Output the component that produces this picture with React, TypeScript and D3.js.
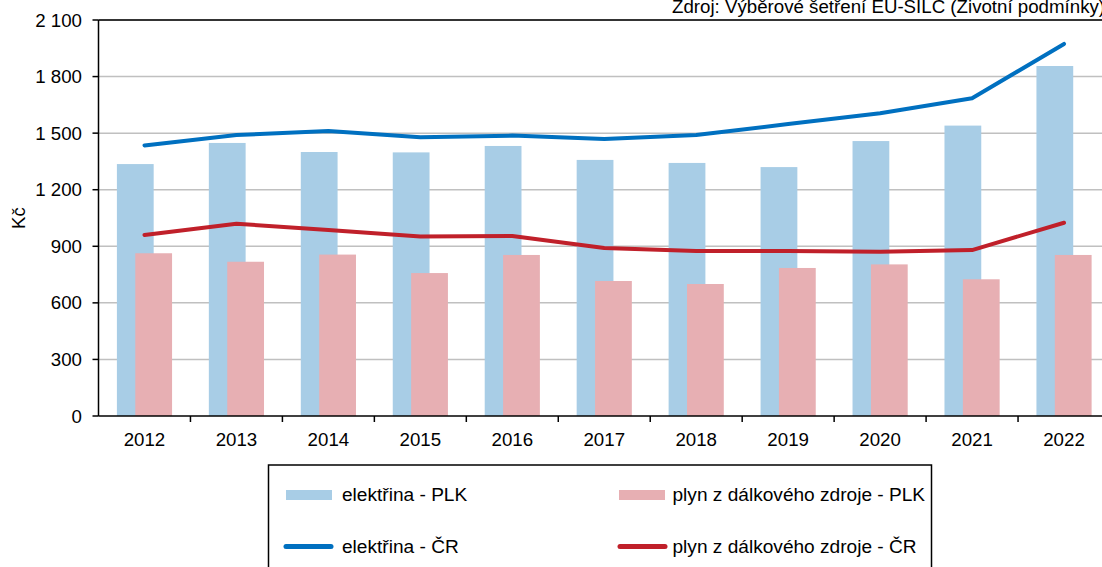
import React, { useEffect } from "react";
import * as d3 from "d3";

const years = ["2012","2013","2014","2015","2016","2017","2018","2019","2020","2021","2022"];
const elPLK = [1336,1448,1400,1398,1432,1358,1342,1320,1458,1540,1856];
const plynPLK = [863,818,856,758,854,716,700,785,804,725,854];
const elCR = [1435,1490,1511,1478,1487,1469,1490,1548,1605,1685,1973];
const plynCR = [960,1020,986,952,955,891,875,875,871,880,1025];
const yTicks = [0,300,600,900,1200,1500,1800,2100];
const legendLabels = ["elektřina - PLK","plyn z dálkového zdroje - PLK","elektřina - ČR","plyn z dálkového zdroje - ČR"];
const sourceText = "Zdroj: Výběrové šetření EU-SILC (Životní podmínky)";

const W = 1102, H = 567;
const left = 98.5, right = 1110, top = 20, bottom = 416;
const FONT = "'Liberation Sans', Arial, sans-serif";
const FS = 18.7;
const LFS = 19.1;
const cBlueBar = "#a8cde6";
const cPinkBar = "#e7afb3";
const cBlueLine = "#0070c0";
const cRedLine = "#c0202a";

export default function App() {
  useEffect(() => { document.body.style.margin = "0"; }, []);
  const x = d3.scaleBand().domain(years).range([left, right]).paddingInner(0).paddingOuter(0);
  const y = d3.scaleLinear().domain([0, 2100]).range([bottom, top]);
  const bw = x.bandwidth();
  const barW = bw * 0.4;
  const blueOff = bw * 0.2;
  const pinkOff = bw * 0.4;
  const line = d3.line<number>().x((_, i) => (x(years[i]) as number) + bw / 2).y(d => y(d));
  const fmt = (v: number) => d3.format(",")(v).replace(/,/g, " ");

  return (
    <svg width={W} height={H} style={{ display: "block" }} fontFamily={FONT}>
      <rect width={W} height={H} fill="#fff" />
      {yTicks.filter(t => t > 0).map(t => (
        <line key={"g" + t} x1={left} x2={right} y1={y(t)} y2={y(t)} stroke="#c0c0c0" strokeWidth={1.5} />
      ))}
      {years.map((yr, i) => (
        <g key={"b" + yr}>
          <rect x={(x(yr) as number) + blueOff} y={y(elPLK[i])} width={barW} height={bottom - y(elPLK[i])} fill={cBlueBar} />
          <rect x={(x(yr) as number) + pinkOff} y={y(plynPLK[i])} width={barW} height={bottom - y(plynPLK[i])} fill={cPinkBar} />
        </g>
      ))}
      <path d={line(elCR) || ""} fill="none" stroke={cBlueLine} strokeWidth={4} strokeLinecap="round" strokeLinejoin="round" />
      <path d={line(plynCR) || ""} fill="none" stroke={cRedLine} strokeWidth={4} strokeLinecap="round" strokeLinejoin="round" />
      <line x1={left} x2={right} y1={top} y2={top} stroke="#000" strokeWidth={1.5} />
      <line x1={left} x2={left} y1={top} y2={bottom} stroke="#000" strokeWidth={1.5} />
      <line x1={left} x2={right} y1={bottom} y2={bottom} stroke="#000" strokeWidth={1.5} />
      {yTicks.map(t => (
        <g key={"yt" + t}>
          <line x1={left - 6} x2={left} y1={y(t)} y2={y(t)} stroke="#000" strokeWidth={1.5} />
          <text x={82} y={y(t)} dy="0.35em" textAnchor="end" fontSize={FS} fill="#000">{fmt(t)}</text>
        </g>
      ))}
      {years.map((yr, i) => (
        <g key={"xt" + yr}>
          {i > 0 && <line x1={x(yr) as number} x2={x(yr) as number} y1={bottom} y2={bottom + 6} stroke="#000" strokeWidth={1.5} />}
          <text x={(x(yr) as number) + bw / 2} y={446} textAnchor="middle" fontSize={FS} fill="#000">{yr}</text>
        </g>
      ))}
      <text transform={`translate(25,218) rotate(-90)`} textAnchor="middle" fontSize={FS} fill="#000">Kč</text>
      <text x={672} y={13} fontSize={FS} fill="#000">{sourceText}</text>
      <rect x={268.5} y={465} width={663} height={120} fill="#fff" stroke="#000" strokeWidth={1.5} />
      <rect x={286} y={490} width={46} height={10} fill={cBlueBar} />
      <text x={342} y={501} fontSize={LFS} fill="#000">{legendLabels[0]}</text>
      <rect x={619} y={490} width={46} height={10} fill={cPinkBar} />
      <text x={672.5} y={501} fontSize={LFS} fill="#000">{legendLabels[1]}</text>
      <line x1={286} x2={331} y1={546.5} y2={546.5} stroke={cBlueLine} strokeWidth={5} strokeLinecap="round" />
      <text x={342} y={553} fontSize={LFS} fill="#000">{legendLabels[2]}</text>
      <line x1={620} x2={665} y1={546.5} y2={546.5} stroke={cRedLine} strokeWidth={5} strokeLinecap="round" />
      <text x={672.5} y={553} fontSize={LFS} fill="#000">{legendLabels[3]}</text>
    </svg>
  );
}
